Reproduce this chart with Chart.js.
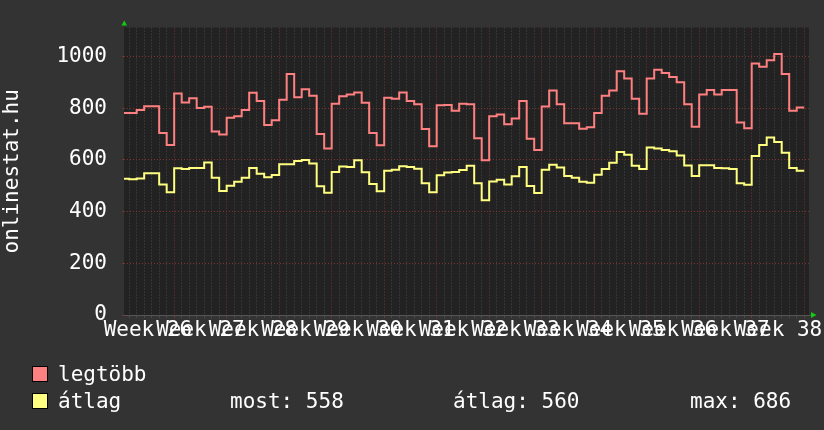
<!DOCTYPE html>
<html>
<head>
<meta charset="utf-8">
<script src="https://cdn.jsdelivr.net/npm/chart.js@4.4.1/dist/chart.umd.min.js"></script>
<style>
  html, body { margin:0; padding:0; background:#333333; }
  #wrap { position:relative; width:824px; height:430px; overflow:hidden;
          font-family:"DejaVu Sans Mono", monospace; color:#ffffff; }
  #c { position:absolute; left:0; top:0; }
  .lg { position:absolute; font-size:21px; line-height:21px; white-space:pre; }
  .box { position:absolute; width:14px; height:14px; border:1px solid #000; }
</style>
</head>
<body>
<div id="wrap">
  <canvas id="c" width="824" height="430"></canvas>
  <div class="box" style="left:32px;top:366px;background:#ff8080"></div>
  <div class="lg" style="left:58px;top:364px" id="lg1"></div>
  <div class="box" style="left:32px;top:393px;background:#ffff80"></div>
  <div class="lg" style="left:58px;top:391px" id="lg2"></div>
  <div class="lg" style="left:230px;top:391px" id="st0"></div>
  <div class="lg" style="left:453px;top:391px" id="st1"></div>
  <div class="lg" style="left:690px;top:391px" id="st2"></div>
</div>
<script>
const FONT = '"DejaVu Sans Mono", monospace';

// one value per day, Monday of week 26 -> Sunday of week 38
const legtobb = [
  781, 781, 793, 807, 807, 704, 657,
  856, 822, 838, 800, 805, 709, 698,
  763, 768, 793, 859, 827, 735, 753,
  832, 932, 842, 873, 848, 700, 644,
  817, 846, 852, 860, 821, 704, 656,
  840, 836, 860, 827, 815, 719, 652,
  811, 812, 790, 817, 815, 683, 598,
  768, 775, 737, 760, 827, 681, 638,
  806, 868, 815, 741, 741, 720, 726,
  781, 848, 868, 942, 914, 836, 778,
  914, 948, 936, 920, 900, 815, 728,
  852, 870, 852, 870, 870, 744, 722,
  972, 960, 985, 1009, 932, 790, 802
];
const atlag = [
  527, 525, 528, 548, 548, 505, 475,
  567, 564, 568, 568, 590, 531, 479,
  500, 515, 531, 568, 546, 533, 541,
  583, 583, 595, 599, 586, 498, 473,
  553, 574, 572, 598, 552, 506, 478,
  558, 562, 575, 572, 565, 509, 475,
  540, 551, 553, 561, 577, 509, 444,
  516, 523, 505, 536, 572, 499, 472,
  562, 581, 570, 537, 531, 515, 511,
  542, 564, 589, 630, 620, 577, 564,
  648, 644, 638, 633, 617, 578, 537,
  579, 579, 568, 567, 564, 509, 504,
  615, 657, 686, 669, 627, 568, 558
];
const weekLabels = ['Week 26','Week 27','Week 28','Week 29','Week 30','Week 31','Week 32',
                    'Week 33','Week 34','Week 35','Week 36','Week 37','Week 38'];
const yLabels = [0, 200, 400, 600, 800, 1000];
const seriesNames = ['legtöbb', 'átlag'];
const stats = [['most', 558], ['átlag', 560], ['max', 686]];

document.getElementById('lg1').textContent = seriesNames[0];
document.getElementById('lg2').textContent = seriesNames[1];
stats.forEach(([k, v], i) => { document.getElementById('st' + i).textContent = `${k}: ${v}`; });

const MAJOR = '#7a3434';
const MINOR = '#4a4a4a';

const toPts = arr => arr.map((v, i) => ({x: i, y: v})).concat([{x: arr.length, y: arr[arr.length - 1]}]);

const frame = {
  id: 'frame',
  beforeDraw(chart) {
    const {ctx, chartArea: a} = chart;
    ctx.save();
    ctx.fillStyle = '#222222';
    ctx.fillRect(a.left, a.top, a.right - a.left, a.bottom - a.top);
    ctx.restore();
  },
  afterDraw(chart) {
    const {ctx, chartArea: a} = chart;
    ctx.save();
    ctx.strokeStyle = '#555555';
    ctx.lineWidth = 1;
    ctx.beginPath();
    ctx.moveTo(a.left, a.bottom + 0.5);
    ctx.lineTo(a.right + 2, a.bottom + 0.5);
    ctx.stroke();
    ctx.fillStyle = '#11cc11';
    ctx.beginPath();
    ctx.moveTo(a.left - 2.5, a.top - 2);
    ctx.lineTo(a.left + 3, a.top - 2);
    ctx.lineTo(a.left + 0.3, a.top - 7);
    ctx.closePath();
    ctx.fill();
    ctx.beginPath();
    ctx.moveTo(a.right + 2, a.bottom - 3);
    ctx.lineTo(a.right + 2, a.bottom + 3);
    ctx.lineTo(a.right + 7.5, a.bottom);
    ctx.closePath();
    ctx.fill();
    ctx.restore();
  }
};

const xGridColor = c => {
  const v = c.tick ? c.tick.value : 0;
  if (!Number.isInteger(v)) return 'rgba(0,0,0,0)';
  return v % 7 === 0 ? MAJOR : MINOR;
};
const yGridColor = c => (c.tick && c.tick.value % 200 === 0) ? MAJOR : MINOR;

new Chart(document.getElementById('c'), {
  type: 'line',
  data: {
    datasets: [
      { label: seriesNames[0], data: toPts(legtobb), borderColor: '#ff8080', borderWidth: 2,
        pointRadius: 0, stepped: true, fill: false },
      { label: seriesNames[1], data: toPts(atlag), borderColor: '#ffff80', borderWidth: 2,
        pointRadius: 0, stepped: true, fill: false }
    ]
  },
  options: {
    responsive: false,
    devicePixelRatio: 1,
    animation: false,
    layout: { padding: { left: 0, right: 15, top: 15, bottom: 75 } },
    plugins: { legend: { display: false }, tooltip: { enabled: false } },
    scales: {
      x: {
        type: 'linear', min: 0.31, max: 91.64,
        afterBuildTicks: s => {
          const t = [];
          for (let d = 1; d <= legtobb.length; d++) t.push({value: d});
          weekLabels.forEach((_, k) => t.push({value: 7 * k + 3.5}));
          t.sort((a, b) => a.value - b.value);
          s.ticks = t;
        },
        afterFit: s => { s.height = 40; },
        ticks: {
          autoSkip: false, maxRotation: 0, minRotation: 0, padding: 0,
          color: '#ffffff', font: { family: FONT, size: 21 },
          callback: v => Number.isInteger(v) ? '' : weekLabels[Math.floor(v / 7)]
        },
        grid: { color: xGridColor, tickColor: xGridColor, lineWidth: 1, tickLength: 3 },
        border: { display: false, dash: [1, 2] }
      },
      y: {
        min: 0, max: 1111.1,
        afterBuildTicks: s => {
          const t = [];
          for (let v = 0; v <= 1100; v += 100) t.push({value: v});
          s.ticks = t;
        },
        afterFit: s => { s.width = 124; },
        ticks: {
          padding: 15, color: '#ffffff', font: { family: FONT, size: 21 },
          callback: v => yLabels.includes(v) ? String(v) : ''
        },
        grid: { color: yGridColor, tickColor: yGridColor, lineWidth: 1, tickLength: 2 },
        border: { display: false, dash: [1, 2] },
        title: { display: true, text: 'onlinestat.hu', color: '#ffffff',
                 font: { family: FONT, size: 21 }, padding: { top: 0, bottom: 0 } }
      }
    }
  },
  plugins: [frame]
});
</script>
</body>
</html>
